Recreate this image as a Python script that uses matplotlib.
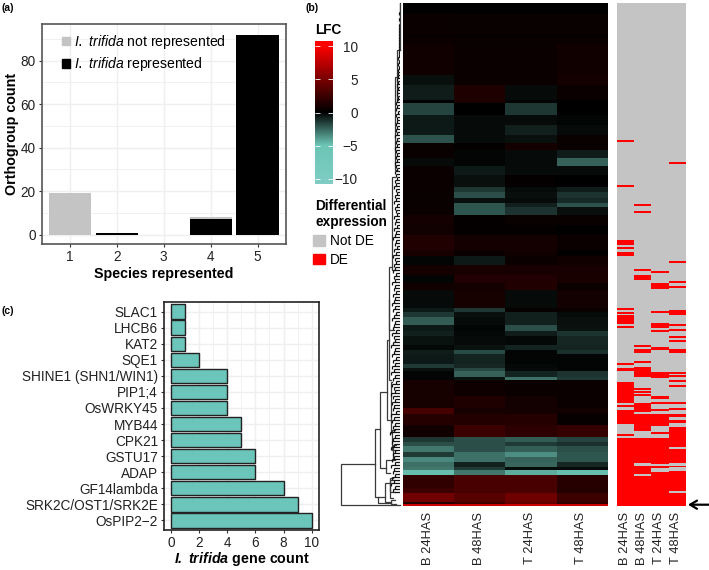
# Orthogroup bars, top gene counts and LFC heatmap with DE calls
import numpy as np
import matplotlib
matplotlib.use('Agg')
import matplotlib.pyplot as plt
from matplotlib.colors import LinearSegmentedColormap, ListedColormap
from matplotlib.patches import Patch

plt.rcParams['font.family'] = ['Liberation Sans', 'DejaVu Sans']
plt.rcParams['font.size'] = 9.8
plt.rcParams['mathtext.fontset'] = 'custom'
plt.rcParams['mathtext.it'] = 'Liberation Sans:italic'
plt.rcParams['mathtext.bf'] = 'Liberation Sans:bold'
plt.rcParams['mathtext.bfit'] = 'Liberation Sans:italic:bold'

# panel a
species = [1, 2, 3, 4, 5]
with_trifida = [0, 1, 0, 7, 92]
without_trifida = [19, 0, 0, 1, 0]

# panel c
genes = ['SLAC1', 'LHCB6', 'KAT2', 'SQE1', 'SHINE1 (SHN1/WIN1)', 'PIP1;4', 'OsWRKY45',
         'MYB44', 'CPK21', 'GSTU17', 'ADAP', 'GF14lambda', 'SRK2C/OST1/SRK2E', 'OsPIP2\u22122']
gene_count = [1, 1, 1, 2, 4, 4, 4, 5, 5, 6, 6, 8, 9, 10]

# panel b, heatmap blocks: number of rows in each block and LFC per sample
conditions = ['B 24HAS', 'B 48HAS', 'T 24HAS', 'T 48HAS']
band_rows = [11, 22, 1, 7, 31, 10, 15, 3, 12, 10, 10, 8, 7, 8, 8, 9, 12, 5, 6, 5, 4, 8, 10, 10, 15, 6, 9, 10, 8, 7,
             18, 4, 5, 8, 6, 5, 9, 5, 4, 10, 4, 3, 6, 3, 16, 12, 6, 11, 12, 5, 4, 6, 5, 5, 5, 3, 5, 13, 5, 9, 2, 2]
lfc_b24 = [0, .5, 0, .5, .7, -.4, -.7, 0, -1.7, -.6, -.6, -2.1, .4, .4, -.3, .5, .5, .5, .5, .4, .5, .5, .9, .7, 1.3, 1.1, -.1, .9, -.1, .7,
           -.3, -.6, -1.4, -2.3, -.6, -.8, -.5, -.2, -.7, -.6, -1.5, -.5, -.1, -.1, 1, 1, 2.8, 1.5, .7, -1.4, -2, -3, -1.5, -3.4, -2.8, -3, -4.8, 2, 2.5, 4.6, 1.5, 8]
lfc_b48 = [0, .4, 0, .4, .5, .5, 1.2, 1.1, 0, -.3, -.3, -.3, .2, -.1, -.1, -.6, -.4, -1.4, -2, -.4, -2.2, -2.2, .2, .2, .9, .5, -.6, 1.1, 1.3, .9,
           1, -1.4, -.4, -.3, -.1, -.2, -.3, -.5, -1.9, -.9, -1, -1.8, -2.5, -.5, .6, 1.2, 1, 1.4, 2.4, -2, -2, -2, -2.8, -2.8, -.8, -1.5, -3, 3, 3, 3.5, 2.5, 8]
lfc_t24 = [0, .4, 0, .4, .5, .5, -.3, -.1, -1.4, -.3, -.8, -.4, .9, -.3, -.3, -.3, .2, -.3, -.4, -.3, -.8, -1.3, .4, .2, .9, .7, .5, 1.1, 1.3, 1.3,
           -.3, .3, -.8, -.8, -2, -.7, -.2, -.9, -.1, -.1, -.2, -.3, -.9, -2.8, .5, .8, .9, 1.5, 1.8, -2.3, -1.5, -2.4, -3.6, -2.5, -2.6, -.3, -4.4, 3, 3, 4.5, 4, 8]
lfc_t48 = [0, .4, 0, .4, .7, .9, .5, 0, 0, -.1, -.3, .4, .4, -.7, -2.5, -.3, 0, -.7, -1.3, -1.1, -2.1, -.4, .4, 0, .5, .2, .7, 1.1, 1.1, .5,
           .8, .4, -.3, -.4, -.5, -1.3, -1, -.9, -1.2, -.1, -.1, -.1, -1.3, -1.5, .5, .5, .7, .3, 2.2, -1.7, -1.2, -2, -2.2, -2.2, -1, -.3, -4.8, 1.6, 1.5, 2.4, 2, 8]

# panel b, DE calls as first/last+1 heatmap row
first_row = 3
last_row = 506
de_b24 = [(140, 142), (185, 187), (240, 245), (247, 249), (252, 256), (308, 310), (312, 314), (315, 324), (326, 328), (363, 365),
          (368, 371), (382, 403), (405, 407), (410, 424), (434, 436), (438, 506)]
de_b48 = [(204, 206), (211, 213), (269, 271), (275, 280), (345, 347), (349, 353), (361, 363), (367, 377), (388, 390), (391, 393),
          (394, 396), (403, 412), (414, 431), (438, 463), (466, 474), (476, 506)]
de_t24 = [(271, 273), (283, 289), (311, 313), (323, 328), (330, 332), (347, 350), (372, 378), (396, 399), (402, 404), (409, 411),
          (414, 426), (432, 434), (438, 464), (466, 468), (472, 506)]
de_t48 = [(162, 164), (261, 263), (281, 283), (286, 288), (310, 315), (324, 326), (329, 331), (336, 338), (340, 342), (349, 353),
          (372, 374), (375, 377), (380, 382), (385, 387), (402, 404), (408, 410), (414, 417), (420, 423), (427, 447), (449, 463),
          (466, 467), (471, 491), (493, 506)]

# dendrogram merges: height, top row, bottom row, height of top child, height of bottom child
merge_h = [59, 25, 22, 20, 13, 14, 11, 10.7, 7.7, 5.3, 2.7, .5, 9, 8, 10, 7, 15, 10, 9]
merge_top = [464, 429, 497, 392, 340, 460, 300, 267, 177, 77, 50, 3, 382, 430, 480, 445, 483, 478, 500]
merge_bot = [505, 497, 503, 468, 420, 473, 380, 330, 270, 170, 100, 50, 433, 450, 498, 460, 502, 492, 504]
merge_top_h = [25, 20, 15, 13, 11, 7, 10.7, 7.7, 5.3, 2.7, .5, 0, 8, 5, 6, 4, 10, 7, 5]
merge_bot_h = [0, 22, 9, 14, 9, 10, 9, 6, 5, 3, 2, 0, 8, 4, 7, 5, 9, 5, 4]
# depth of the fine leaf branches, one every three rows
leaf_depth = [.3, .5, .4, .6, .5, .8, .5, .7, .6, .9, 1, .7, 1.2, .9, 1, 1.5, 1.2, 1, 1.8, 1.4, 2, 1.5, 1.8, 2.5, 2, 2.8, 2.2, 3,
              2, 2.6, 3.5, 2.5, 3, 4, 3, 3.6, 2.5, 4, 3, 3.5, 4.5, 3, 4, 3.2, 5, 3.5, 4, 3, 5, 4, 3, 4.5, 3.5, 5, 4, 3, 5.5, 4,
              3.5, 5, 4, 6, 4, 3, 5, 4, 6, 3.5, 5, 4.5, 3, 6, 4, 5, 3.5, 6, 4, 5, 7, 4, 5, 3.5, 6, 4.5, 7, 5, 4, 6, 5, 7,
              4, 6, 5, 8, 5, 6, 4, 7, 5, 6, 8, 5, 7, 4, 6, 8, 5, 6, 7, 4, 8, 6, 5, 7, 9, 5, 6, 8, 4, 7, 5, 8, 6, 9, 5, 7,
              4, 8, 6, 5, 9, 7, 5, 8, 6, 7, 4, 9, 6, 8, 5, 7, 6, 10, 5, 7, 8, 6, 9, 5, 7, 6, 8, 5, 9, 6, 7, 5, 8, 6, 9, 5, 7, 6]

W, H = 709, 570
DARK = '#333333'
GRID = '#EFEFEF'
TEAL = '#6CC5BA'
LABEL_SIZE = 10.3


def px_axes(x0, y0, x1, y1):
    return fig.add_axes([x0 / W, 1 - y1 / H, (x1 - x0) / W, (y1 - y0) / H])


def px_text(x, y, s, **kw):
    kw.setdefault('va', 'center')
    fig.text(x / W, 1 - y / H, s, **kw)


def frame(ax, edge=DARK):
    for s in ax.spines.values():
        s.set_color(edge)
        s.set_linewidth(1.2)
    ax.tick_params(color=DARK, length=2.5, width=.8, pad=1.8, labelcolor='#222222')
    ax.set_axisbelow(True)
    ax.grid(which='major', color=GRID, lw=1)
    ax.grid(which='minor', color=GRID, lw=.6)


fig = plt.figure(figsize=(W / 100, H / 100), dpi=100)

# (a)
ax = px_axes(41.7, 24.3, 285.7, 244.3)
ax.bar(species, with_trifida, width=.9, color='black')
ax.bar(species, without_trifida, width=.9, bottom=with_trifida, color='#C4C4C4')
ax.set_xlim(.4, 5.6)
ax.set_ylim(-4.4, 96.7)
ax.set_xticks(species)
ax.set_yticks([0, 20, 40, 60, 80])
ax.set_yticks([10, 30, 50, 70, 90], minor=True)
ax.tick_params(axis='y', which='minor', length=0)
frame(ax, '#555555')
ax.set_xlabel('Species represented', fontweight='bold', fontsize=LABEL_SIZE, labelpad=2)
ax.set_ylabel('Orthogroup count', fontweight='bold', fontsize=LABEL_SIZE, labelpad=1)
ax.legend(handles=[Patch(color='#C4C4C4'), Patch(color='black')],
          labels=[r'$\mathit{I.\ trifida}$ not represented', r'$\mathit{I.\ trifida}$ represented'],
          loc='upper left', bbox_to_anchor=(.03, 1.018), frameon=False, handlelength=.6, handleheight=.6,
          handletextpad=.25, labelspacing=.3, fontsize=10.1)

# (c)
ax = px_axes(164, 302, 318.7, 530)
ax.barh(genes, gene_count, height=.9, color=TEAL, edgecolor='#222222', lw=1)
ax.set_ylim(13.6, -.6)
ax.set_xlim(-.5, 10.5)
ax.set_xticks([0, 2, 4, 6, 8, 10])
ax.set_xticks([1, 3, 5, 7, 9], minor=True)
ax.tick_params(axis='x', which='minor', length=0)
frame(ax, '#222222')
ax.tick_params(axis='x', pad=1.5)
ax.set_xlabel(r'$\mathbfit{I.\ trifida}$ gene count', fontweight='bold', fontsize=LABEL_SIZE, labelpad=0)

# (b) heatmap
lfc = np.column_stack([np.repeat(c, band_rows) for c in (lfc_b24, lfc_b48, lfc_t24, lfc_t48)])
vmax = 10.85
nodes = [(-10.85, '#7FCDC4'), (-5, '#6CC5B5'), (0, 'black'), (5, '#7A0000'), (10, '#FF0000'), (10.85, '#FF0000')]
lfc_cmap = LinearSegmentedColormap.from_list('lfc', [((v + vmax) / (2 * vmax), c) for v, c in nodes])

ax = px_axes(402.7, first_row, 606.7, last_row)
ax.imshow(lfc, aspect='auto', cmap=lfc_cmap, vmin=-vmax, vmax=vmax, interpolation='nearest',
          extent=(-.5, 3.5, last_row, first_row))
ax.set_xticks(range(4))
ax.set_xticklabels(conditions, rotation=90, color='#222222', fontsize=9.3)
ax.set_yticks([])
ax.tick_params(axis='x', length=0, pad=4)
for s in ax.spines.values():
    s.set_visible(False)

# (b) DE panel
de = np.zeros((last_row, 4))
for col, spans in enumerate((de_b24, de_b48, de_t24, de_t48)):
    for a, b in spans:
        de[a:b, col] = 1
ax = px_axes(616.7, first_row, 685, last_row)
ax.imshow(de[first_row:], aspect='auto', cmap=ListedColormap(['#C4C4C4', '#FF0000']), vmin=0, vmax=1,
          interpolation='nearest', extent=(-.5, 3.5, last_row, first_row))
ax.set_xticks(range(4))
ax.set_xticklabels(conditions, rotation=90, color='#222222', fontsize=9.3)
ax.set_yticks([])
ax.tick_params(axis='x', length=0, pad=4)
for s in ax.spines.values():
    s.set_visible(False)

# (b) dendrogram
ax = px_axes(340, first_row, 400, last_row)
ax.set_xlim(60, 0)
ax.set_ylim(last_row, first_row)
ax.axis('off')
for h, t, b, th, bh in zip(merge_h, merge_top, merge_bot, merge_top_h, merge_bot_h):
    ax.plot([th, h, h, bh], [t, t, b, b], color='#3A3A3A', lw=.9, solid_joinstyle='miter', clip_on=False)
leaf_y = first_row + 3 * np.arange(len(leaf_depth))
ax.hlines(leaf_y, 0, leaf_depth, color='#111111', lw=.9)
ax.vlines(leaf_depth[:-1], leaf_y[:-1], leaf_y[1:], color='#111111', lw=.9)

# (b) colour bar
ax = px_axes(314.7, 40.7, 332.7, 184.3)
ramp = np.linspace(vmax, -vmax, 256)[:, None]
ax.imshow(ramp, aspect='auto', cmap=lfc_cmap, vmin=-vmax, vmax=vmax, extent=(0, 1, -vmax, vmax))
ax.set_xticks([])
ax.yaxis.tick_right()
ax.set_yticks([-10, -5, 0, 5, 10])
ax.tick_params(axis='y', direction='in', left=True, right=True, color='white', length=3.5, width=.6, pad=18,
               labelcolor='#222222')
for t in ax.get_yticklabels():
    t.set_ha('right')
for s in ax.spines.values():
    s.set_visible(False)

px_text(314.7, 30, 'LFC', fontweight='bold')
px_text(315, 205.5, 'Differential', fontweight='bold')
px_text(315, 222, 'expression', fontweight='bold')
fig.legend(handles=[Patch(color='#C4C4C4'), Patch(color='#FF0000')], labels=['Not DE', 'DE'],
           loc='upper left', bbox_to_anchor=(313 / W, 1 - 234 / H), frameon=False, handlelength=.85, handleheight=.85,
           handletextpad=.4, labelspacing=.35, borderaxespad=0, borderpad=0)

px_text(2, 8, '(a)', fontweight='bold', fontsize=7.5)
px_text(306, 8, '(b)', fontweight='bold', fontsize=7.5)
px_text(2, 311, '(c)', fontweight='bold', fontsize=7.5)

fig.add_artist(plt.Annotation('', xy=(688 / W, 1 - 504.7 / H), xytext=(709 / W, 1 - 504.7 / H),
                              xycoords='figure fraction', textcoords='figure fraction',
                              arrowprops=dict(arrowstyle='->,head_length=.5,head_width=.3', lw=1.6, color='black',
                                              shrinkA=0, shrinkB=0)))

fig.savefig('out.png', dpi=100)
